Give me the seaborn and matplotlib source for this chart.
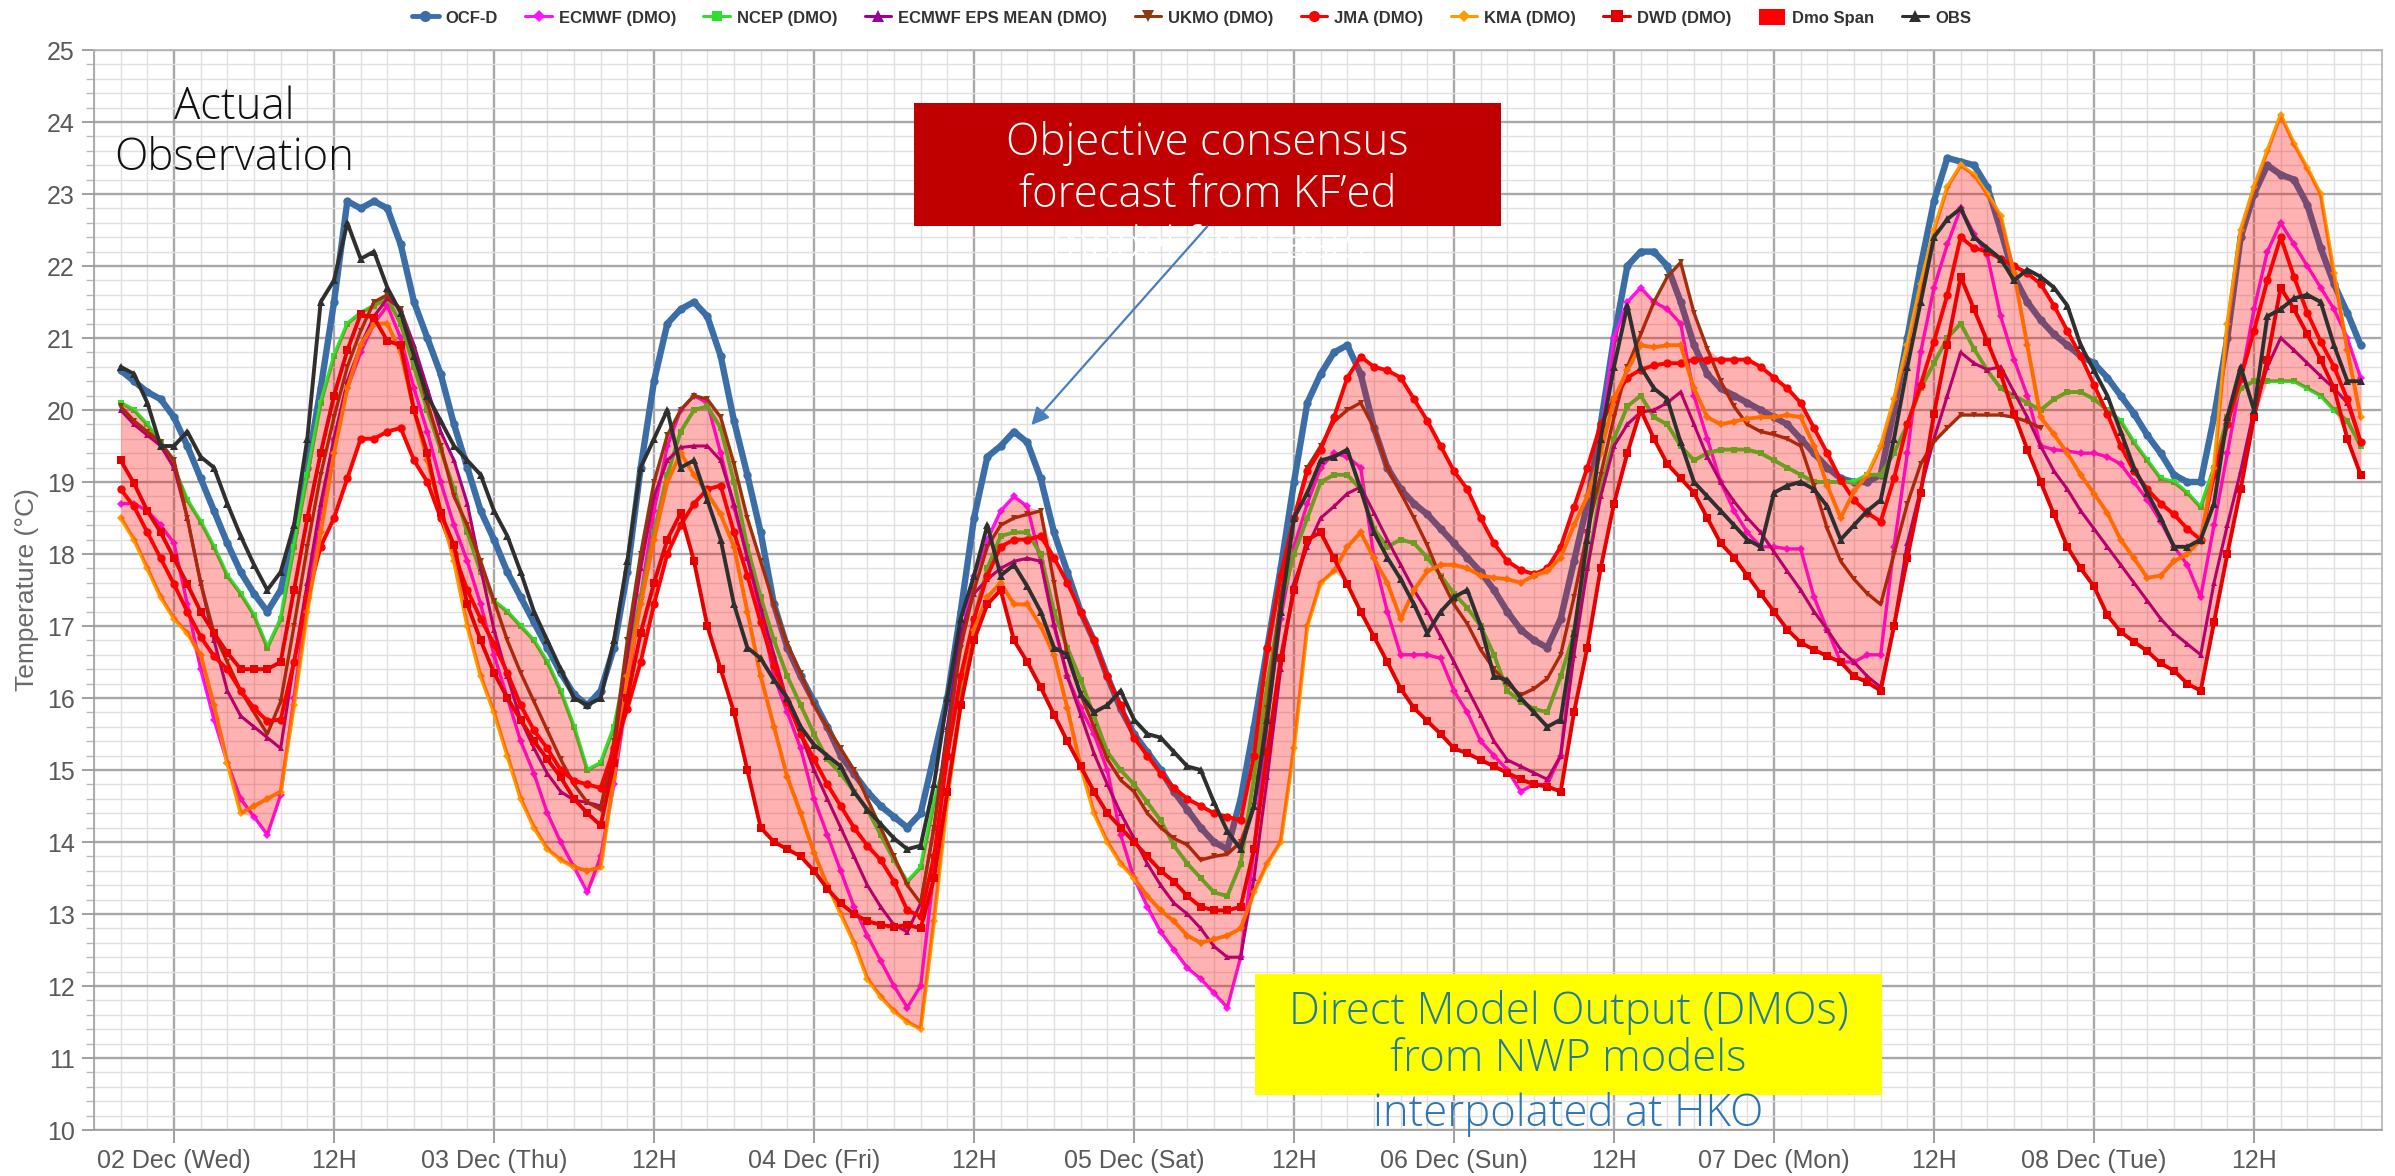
import numpy as np
import matplotlib
matplotlib.use("Agg")
import matplotlib.pyplot as plt
import seaborn as sns
from matplotlib.lines import Line2D
from matplotlib.patches import Patch, Rectangle
from matplotlib.ticker import MultipleLocator

# ---------------- data (hours from 02 Dec 00H, hourly) ----------------
HOURS = list(range(-4, 165))

OCF_D = [20.55, 20.4, 20.25, 20.15,
         19.9, 19.5, 19.05, 18.6, 18.15, 17.75, 17.45, 17.2, 17.5, 18.3, 19.2, 20.3,
         21.5, 22.9, 22.8, 22.9, 22.8, 22.3, 21.5, 21.0, 20.5, 19.8, 19.2, 18.6,
         18.2, 17.75, 17.4, 17.05, 16.7, 16.35, 16.05, 15.9, 16.1, 16.7, 17.75, 19.2,
         20.4, 21.2, 21.4, 21.5, 21.3, 20.75, 19.85, 19.1, 18.3, 17.3, 16.7, 16.3,
         15.95, 15.6, 15.2, 14.95, 14.7, 14.5, 14.35, 14.2, 14.4, 15.2, 16.0, 17.2,
         18.5, 19.35, 19.5, 19.7, 19.55, 19.05, 18.3, 17.75, 17.2, 16.8, 16.3, 15.85,
         15.5, 15.25, 15.0, 14.7, 14.45, 14.2, 14.0, 13.9, 14.6, 15.6, 16.7, 17.8,
         19.0, 20.1, 20.5, 20.8, 20.9, 20.5, 19.75, 19.2, 18.9, 18.7, 18.55, 18.35,
         18.15, 17.95, 17.75, 17.5, 17.2, 16.95, 16.8, 16.7, 17.1, 17.9, 18.7, 19.8,
         21.0, 22.0, 22.2, 22.2, 22.0, 21.5, 20.9, 20.5, 20.3, 20.2, 20.1, 20.0,
         19.9, 19.8, 19.6, 19.4, 19.2, 19.05, 19.0, 19.0, 19.1, 20.0, 21.0, 22.0,
         22.9, 23.5, 23.45, 23.4, 23.1, 22.5, 21.85, 21.5, 21.25, 21.05, 20.9, 20.75,
         20.65, 20.45, 20.2, 19.95, 19.65, 19.4, 19.1, 19.0, 19.0, 19.9, 21.0, 22.4,
         23.0, 23.4, 23.27, 23.2, 22.85, 22.25, 21.75, 21.35, 20.9]

ECMWF = [18.7, 18.7, 18.6, 18.4,
         18.15, 17.3, 16.4, 15.7, 15.1, 14.6, 14.35, 14.1, 14.65, 16.0, 17.4, 18.6,
         19.6, 20.3, 20.8, 21.2, 21.45, 21.0, 20.3, 19.7, 19.0, 18.4, 17.9, 17.3,
         16.6, 16.0, 15.4, 14.95, 14.4, 14.0, 13.65, 13.3, 13.8, 14.8, 16.1, 17.4,
         18.6, 19.5, 20.0, 20.2, 20.1, 19.4, 18.65, 17.95, 17.2, 16.3, 15.8, 15.3,
         14.6, 14.1, 13.6, 13.1, 12.7, 12.35, 12.0, 11.7, 12.0, 13.6, 15.3, 16.8,
         17.7, 18.2, 18.6, 18.8, 18.66, 17.9, 17.0, 16.3, 15.86, 15.5, 15.0, 14.1,
         13.5, 13.1, 12.75, 12.5, 12.25, 12.1, 11.9, 11.7, 12.4, 13.9, 15.7, 17.1,
         18.1, 18.7, 19.2, 19.4, 19.35, 19.2, 17.95, 17.2, 16.6, 16.6, 16.6, 16.55,
         16.1, 15.8, 15.4, 15.2, 15.0, 14.7, 14.8, 14.8, 15.2, 16.8, 18.3, 19.6,
         21.0, 21.5, 21.7, 21.5, 21.4, 21.2, 20.2, 19.6, 19.0, 18.6, 18.3, 18.1,
         18.1, 18.07, 18.07, 17.4, 16.95, 16.5, 16.5, 16.6, 16.6, 18.1, 19.4, 20.8,
         21.7, 22.3, 22.8, 22.45, 22.15, 21.3, 20.7, 20.2, 19.5, 19.45, 19.43, 19.4,
         19.4, 19.35, 19.25, 19.0, 18.75, 18.45, 18.1, 17.85, 17.4, 18.4, 19.4, 20.4,
         21.4, 22.2, 22.6, 22.3, 22.0, 21.7, 21.4, 21.0, 20.45]

NCEP = [20.1, 20.0, 19.8, 19.55,
        19.2, 18.75, 18.45, 18.1, 17.7, 17.45, 17.15, 16.7, 17.1, 18.1, 19.1, 20.1,
        20.75, 21.2, 21.35, 21.45, 21.55, 21.2, 20.6, 20.0, 19.45, 18.9, 18.3, 17.75,
        17.35, 17.2, 17.0, 16.8, 16.5, 16.1, 15.6, 15.0, 15.1, 15.6, 16.5, 17.4,
        18.3, 19.1, 19.7, 20.0, 20.05, 19.75, 19.0, 18.1, 17.4, 16.8, 16.3, 15.9,
        15.5, 15.15, 14.95, 14.7, 14.45, 14.1, 13.75, 13.45, 13.65, 14.55, 15.25, 16.15,
        17.1, 17.8, 18.25, 18.3, 18.3, 18.0, 17.2, 16.7, 16.25, 15.75, 15.25, 15.0,
        14.8, 14.55, 14.3, 13.95, 13.7, 13.5, 13.3, 13.25, 13.7, 14.9, 16.2, 17.3,
        18.0, 18.5, 19.0, 19.1, 19.1, 18.9, 18.35, 18.1, 18.2, 18.15, 17.95, 17.7,
        17.45, 17.25, 17.0, 16.6, 16.1, 15.95, 15.85, 15.8, 16.3, 16.9, 17.8, 18.9,
        19.6, 20.05, 20.2, 19.9, 19.8, 19.5, 19.3, 19.4, 19.45, 19.45, 19.45, 19.4,
        19.3, 19.2, 19.1, 19.0, 19.0, 19.0, 19.0, 19.1, 19.1, 19.4, 19.8, 20.3,
        20.65, 21.0, 21.2, 20.85, 20.55, 20.3, 20.2, 20.1, 20.0, 20.15, 20.25, 20.25,
        20.15, 20.0, 19.85, 19.55, 19.3, 19.05, 19.0, 18.85, 18.65, 19.2, 19.9, 20.3,
        20.4, 20.4, 20.4, 20.4, 20.3, 20.2, 20.0, 19.85, 19.5]

EPS_MEAN = [20.0, 19.8, 19.65, 19.5,
            19.2, 18.5, 17.6, 16.8, 16.1, 15.75, 15.6, 15.45, 15.3, 16.5, 17.6, 18.7,
            19.6, 20.4, 20.9, 21.3, 21.55, 21.4, 20.9, 20.3, 19.7, 19.3, 18.7, 17.8,
            16.95, 16.3, 15.7, 15.3, 14.95, 14.7, 14.58, 14.55, 14.5, 15.2, 16.6, 17.8,
            18.8, 19.3, 19.48, 19.5, 19.5, 19.3, 18.7, 17.95, 17.25, 16.6, 15.95, 15.5,
            15.0, 14.6, 14.2, 13.8, 13.4, 13.1, 12.85, 12.75, 13.15, 14.2, 15.6, 16.9,
            17.45, 17.65, 17.8, 17.9, 17.94, 17.9, 17.03, 16.3, 15.77, 15.23, 14.8, 14.4,
            14.05, 13.7, 13.4, 13.15, 13.0, 12.8, 12.55, 12.4, 12.4, 13.5, 14.9, 16.4,
            17.6, 18.1, 18.5, 18.66, 18.84, 18.93, 18.57, 18.2, 17.85, 17.5, 17.2, 16.85,
            16.5, 16.13, 15.77, 15.4, 15.14, 15.05, 14.96, 14.87, 15.2, 16.6, 17.8, 18.8,
            19.5, 19.8, 19.97, 20.0, 20.1, 20.25, 19.8, 19.35, 19.0, 18.73, 18.5, 18.3,
            18.03, 17.76, 17.5, 17.2, 16.95, 16.67, 16.5, 16.3, 16.15, 17.0, 18.15, 18.9,
            19.6, 20.2, 20.8, 20.65, 20.56, 20.6, 20.25, 19.9, 19.5, 19.15, 18.9, 18.6,
            18.35, 18.1, 17.85, 17.6, 17.35, 17.1, 16.9, 16.75, 16.6, 17.6, 18.4, 19.15,
            20.0, 20.6, 21.0, 20.83, 20.65, 20.47, 20.3, 20.1, 19.56]

# UKMO stops at 07 Dec 20H (hour 140)
UKMO = [20.05, 19.85, 19.7, 19.55,
        19.3, 18.5, 17.6, 16.9, 16.5, 16.1, 15.8, 15.5, 15.95, 17.0, 18.1, 19.1,
        19.9, 20.6, 21.1, 21.5, 21.6, 21.4, 20.8, 20.1, 19.5, 18.8, 18.4, 17.9,
        17.35, 16.8, 16.35, 15.95, 15.55, 15.15, 14.8, 14.55, 14.45, 15.4, 16.8, 18.0,
        19.0, 19.65, 20.0, 20.2, 20.15, 19.9, 19.25, 18.5, 17.9, 17.3, 16.75, 16.35,
        15.9, 15.6, 15.3, 15.0, 14.6, 14.2, 13.8, 13.4, 13.15, 14.2, 15.5, 16.7,
        17.5, 18.1, 18.4, 18.5, 18.55, 18.6, 17.6, 16.6, 16.05, 15.6, 15.15, 14.86,
        14.7, 14.4, 14.2, 14.05, 13.96, 13.75, 13.8, 13.83, 14.0, 14.5, 15.86, 17.4,
        18.5, 19.2, 19.5, 19.84, 20.0, 20.1, 19.75, 19.2, 18.85, 18.5, 18.12, 17.67,
        17.3, 17.03, 16.67, 16.4, 16.2, 16.04, 16.13, 16.27, 16.6, 17.4, 18.3, 19.1,
        19.9, 20.6, 21.05, 21.5, 21.85, 22.05, 21.35, 20.85, 20.4, 20.05, 19.8, 19.7,
        19.66, 19.6, 19.5, 18.95, 18.35, 17.9, 17.65, 17.45, 17.3, 18.0, 18.7, 19.25,
        19.56, 19.75, 19.93, 19.93, 19.93, 19.93, 19.9, 19.84, 19.75]

JMA = [18.9, 18.66, 18.3, 17.94,
       17.58, 17.2, 16.85, 16.58, 16.4, 16.1, 15.86, 15.68, 15.7, 16.5, 17.4, 18.1,
       18.5, 19.05, 19.6, 19.6, 19.7, 19.75, 19.3, 19.0, 18.5, 18.0, 17.5, 17.1,
       16.75, 16.35, 15.9, 15.55, 15.3, 15.0, 14.85, 14.8, 14.75, 15.3, 15.85, 16.5,
       17.3, 18.0, 18.4, 18.7, 18.9, 18.95, 18.3, 17.7, 17.05, 16.45, 15.95, 15.5,
       15.15, 14.8, 14.5, 14.2, 13.95, 13.75, 13.45, 13.05, 12.97, 13.8, 15.2, 16.3,
       17.1, 17.7, 18.1, 18.2, 18.2, 18.25, 17.95, 17.6, 17.2, 16.8, 16.3, 15.9,
       15.45, 15.2, 14.95, 14.75, 14.6, 14.5, 14.4, 14.35, 14.3, 15.2, 16.7, 17.7,
       18.5, 19.15, 19.45, 19.9, 20.45, 20.74, 20.6, 20.55, 20.45, 20.15, 19.85, 19.5,
       19.15, 18.9, 18.5, 18.15, 17.9, 17.78, 17.72, 17.8, 18.1, 18.65, 19.2, 19.8,
       20.15, 20.45, 20.56, 20.62, 20.65, 20.65, 20.7, 20.7, 20.7, 20.7, 20.7, 20.6,
       20.45, 20.3, 20.1, 19.75, 19.4, 19.03, 18.75, 18.57, 18.45, 19.05, 19.8, 20.35,
       20.95, 21.6, 22.4, 22.25, 22.2, 22.1, 22.0, 21.9, 21.75, 21.45, 21.1, 20.75,
       20.35, 19.95, 19.5, 19.15, 18.9, 18.7, 18.55, 18.35, 18.2, 19.1, 19.8, 20.45,
       21.1, 21.8, 22.4, 21.85, 21.35, 20.95, 20.6, 20.15, 19.56]

KMA = [18.5, 18.2, 17.8, 17.4,
       17.1, 16.9, 16.6, 15.9, 15.1, 14.4, 14.5, 14.6, 14.7, 15.9, 17.2, 18.3,
       19.4, 20.3, 20.9, 21.2, 21.2, 20.8, 20.0, 19.3, 18.6, 17.9, 17.0, 16.3,
       15.8, 15.2, 14.6, 14.2, 13.9, 13.75, 13.65, 13.6, 13.65, 14.9, 16.3, 17.3,
       18.2, 19.0, 19.4, 19.1, 18.85, 18.55, 18.1, 17.2, 16.3, 15.6, 14.9, 14.4,
       13.85, 13.4, 13.0, 12.6, 12.1, 11.85, 11.65, 11.5, 11.4, 12.9, 14.6, 15.9,
       16.95, 17.4, 17.6, 17.3, 17.3, 17.0, 16.6, 15.86, 15.05, 14.4, 14.0, 13.7,
       13.5, 13.25, 13.05, 12.9, 12.7, 12.6, 12.65, 12.7, 12.8, 13.3, 13.7, 14.0,
       15.3, 17.0, 17.6, 17.76, 18.1, 18.3, 17.94, 17.6, 17.1, 17.5, 17.76, 17.85,
       17.85, 17.8, 17.7, 17.67, 17.65, 17.6, 17.7, 17.76, 17.95, 18.4, 18.8, 19.4,
       20.15, 20.55, 20.9, 20.87, 20.9, 20.9, 20.3, 19.9, 19.8, 19.84, 19.88, 19.9,
       19.9, 19.93, 19.9, 19.5, 18.95, 18.5, 18.87, 19.1, 19.5, 20.15, 20.9, 21.75,
       22.5, 23.1, 23.4, 23.27, 23.0, 22.7, 21.9, 20.9, 19.9, 19.66, 19.4, 19.1,
       18.84, 18.57, 18.2, 17.94, 17.67, 17.7, 17.9, 18.0, 18.2, 19.2, 21.2, 22.5,
       23.1, 23.6, 24.1, 23.7, 23.36, 23.0, 21.9, 20.83, 19.9]

DWD = [19.3, 18.98, 18.6, 18.3,
       17.94, 17.58, 17.2, 16.9, 16.63, 16.4, 16.4, 16.4, 16.5, 17.5, 18.5, 19.4,
       20.2, 20.83, 21.33, 21.28, 20.96, 20.9, 20.0, 19.4, 18.57, 18.12, 17.3, 16.8,
       16.35, 16.0, 15.7, 15.4, 15.15, 14.9, 14.6, 14.4, 14.23, 15.1, 16.0, 16.9,
       17.6, 18.2, 18.57, 17.9, 17.0, 16.4, 15.8, 15.0, 14.2, 14.0, 13.9, 13.8,
       13.6, 13.35, 13.15, 13.0, 12.9, 12.85, 12.82, 12.85, 12.8, 13.5, 14.7, 15.9,
       16.8, 17.3, 17.5, 16.8, 16.5, 16.15, 15.77, 15.4, 15.05, 14.7, 14.4, 14.2,
       14.0, 13.8, 13.6, 13.45, 13.25, 13.1, 13.05, 13.05, 13.1, 13.9, 15.25, 16.55,
       17.5, 18.2, 18.3, 17.94, 17.58, 17.2, 16.85, 16.5, 16.13, 15.86, 15.68, 15.5,
       15.3, 15.23, 15.14, 15.05, 14.96, 14.87, 14.8, 14.77, 14.7, 15.8, 16.7, 17.8,
       18.7, 19.4, 20.0, 19.6, 19.25, 19.05, 18.85, 18.5, 18.15, 17.95, 17.7, 17.45,
       17.2, 16.95, 16.77, 16.67, 16.58, 16.5, 16.3, 16.22, 16.1, 17.0, 17.94, 18.85,
       19.95, 20.9, 21.85, 21.4, 20.95, 20.5, 19.95, 19.45, 19.0, 18.55, 18.1, 17.8,
       17.55, 17.15, 16.92, 16.78, 16.65, 16.48, 16.38, 16.2, 16.1, 17.05, 18.0, 18.9,
       19.9, 20.7, 21.7, 21.4, 21.05, 20.7, 20.3, 19.6, 19.1]

OBS = [20.6, 20.5, 20.1, 19.5,
       19.5, 19.7, 19.35, 19.2, 18.7, 18.25, 17.85, 17.5, 17.75, 18.4, 19.6, 21.5,
       21.8, 22.6, 22.1, 22.2, 21.7, 21.35, 20.75, 20.2, 19.85, 19.5, 19.3, 19.1,
       18.6, 18.25, 17.75, 17.2, 16.8, 16.4, 16.0, 15.9, 16.0, 16.8, 17.9, 19.2,
       19.6, 20.0, 19.2, 19.3, 18.75, 18.2, 17.3, 16.7, 16.55, 16.25, 16.0, 15.6,
       15.35, 15.2, 15.05, 14.7, 14.45, 14.25, 14.05, 13.9, 13.95, 14.8, 16.0, 17.1,
       17.7, 18.4, 17.7, 17.85, 17.55, 17.2, 16.7, 16.6, 16.05, 15.8, 15.9, 16.1,
       15.7, 15.5, 15.45, 15.25, 15.05, 15.0, 14.55, 14.15, 13.9, 14.5, 15.7, 17.2,
       18.5, 18.85, 19.3, 19.35, 19.45, 18.9, 18.3, 17.95, 17.65, 17.3, 16.9, 17.2,
       17.4, 17.5, 17.0, 16.3, 16.25, 16.0, 15.8, 15.6, 15.7, 16.9, 18.2, 19.6,
       20.6, 21.45, 20.6, 20.3, 20.15, 19.55, 19.0, 18.8, 18.6, 18.4, 18.2, 18.1,
       18.85, 18.95, 19.0, 18.9, 18.66, 18.2, 18.4, 18.6, 18.75, 19.6, 20.6, 21.5,
       22.4, 22.65, 22.8, 22.4, 22.25, 22.1, 21.8, 21.95, 21.85, 21.7, 21.45, 20.9,
       20.55, 20.2, 19.7, 19.2, 18.85, 18.5, 18.1, 18.1, 18.2, 18.7, 19.9, 20.6,
       20.0, 21.3, 21.4, 21.55, 21.6, 21.5, 20.9, 20.4, 20.4]

X_TICKS = [0, 12, 24, 36, 48, 60, 72, 84, 96, 108, 120, 132, 144, 156]
X_TICK_LABELS = ["02 Dec (Wed)", "12H", "03 Dec (Thu)", "12H", "04 Dec (Fri)", "12H",
                 "05 Dec (Sat)", "12H", "06 Dec (Sun)", "12H", "07 Dec (Mon)", "12H",
                 "08 Dec (Tue)", "12H"]
Y_TICKS = list(range(10, 26))

SERIES_NAMES = ["OCF-D", "ECMWF (DMO)", "NCEP (DMO)", "ECMWF EPS MEAN (DMO)", "UKMO (DMO)",
                "JMA (DMO)", "KMA (DMO)", "DWD (DMO)", "Dmo Span", "OBS"]

# ---------------- figure ----------------
sns.set_theme(style="white")
plt.rcParams['font.family'] = ['Liberation Sans', 'DejaVu Sans']

W, H = 2395, 1176
fig = plt.figure(figsize=(W / 100, H / 100), dpi=100)
x0, x1, y_top, y_bot = 94, 2382, 50, 1130
ax = fig.add_axes([x0 / W, 1 - y_bot / H, (x1 - x0) / W, (y_bot - y_top) / H])
ax.set_xlim(-6, 165.6)
ax.set_ylim(10, 25)

# grid
ax.set_axisbelow(True)
ax.xaxis.set_major_locator(plt.FixedLocator(X_TICKS))
ax.xaxis.set_minor_locator(MultipleLocator(2))
ax.yaxis.set_major_locator(plt.FixedLocator(Y_TICKS))
ax.yaxis.set_minor_locator(MultipleLocator(0.2))
ax.grid(which='minor', color='#e0e0e0', linewidth=1.0, zorder=0)
ax.grid(which='major', color='#a8a8a8', linewidth=1.7, zorder=0.5)
for s in ax.spines.values():
    s.set_color('#b4b4b4')
    s.set_linewidth(1.2)
ax.spines['left'].set_color('#a0a0a0')
ax.spines['bottom'].set_color('#a0a0a0')

ax.set_xticks(X_TICKS)
ax.set_xticklabels(X_TICK_LABELS)
ax.set_yticks(Y_TICKS)
ax.set_yticklabels([str(v) for v in Y_TICKS])
ax.tick_params(axis='both', which='major', labelsize=18, labelcolor='#5a5a5a',
               color='#a0a0a0', length=9, width=1.4, pad=5)
ax.tick_params(axis='y', which='minor', left=True, length=6, width=1.0, color='#b8b8b8')
ax.tick_params(axis='x', which='minor', bottom=False)
ax.tick_params(axis='y', which='major', left=True)
ax.tick_params(axis='x', which='major', bottom=True)
ax.set_xlabel("")
ax.set_ylabel("Temperature (°C)", fontsize=19, color='#6a6a6a')
ax.yaxis.set_label_coords(-0.024, 0.5)

hours = np.array(HOURS)
ukmo_hours = HOURS[:len(UKMO)]

styles = [
    # name, x, y, color, lw, marker, ms, z
    ("OCF-D", HOURS, OCF_D, '#3b6ea6', 4.6, 'o', 6.0, 2),
    ("ECMWF (DMO)", HOURS, ECMWF, '#ff10ff', 2.4, 'D', 4.2, 3),
    ("NCEP (DMO)", HOURS, NCEP, '#2ee02e', 2.8, 's', 5.0, 4),
    ("ECMWF EPS MEAN (DMO)", HOURS, EPS_MEAN, '#990099', 2.2, '^', 5.0, 5),
    ("UKMO (DMO)", ukmo_hours, UKMO, '#8b3a10', 2.4, 'v', 5.0, 6),
    ("JMA (DMO)", HOURS, JMA, '#ff0000', 2.8, 'o', 6.0, 7),
    ("KMA (DMO)", HOURS, KMA, '#ff9a00', 2.8, 'D', 4.2, 8),
    ("DWD (DMO)", HOURS, DWD, '#e00000', 2.8, 's', 5.8, 9),
]
for name, xs, ys, c, lw, m, ms, z in styles:
    sns.lineplot(x=xs, y=ys, ax=ax, color=c, linewidth=lw, marker=m, markersize=ms,
                 markeredgewidth=0, legend=False, sort=False, zorder=z)

# Dmo span (envelope of the model outputs)
ukmo_full = np.full(len(HOURS), np.nan)
ukmo_full[:len(UKMO)] = UKMO
dmo = np.vstack([ECMWF, NCEP, EPS_MEAN, ukmo_full, JMA, KMA, DWD])
span_lo = np.nanmin(dmo, axis=0)
span_hi = np.nanmax(dmo, axis=0)
ax.fill_between(hours, span_lo, span_hi, color='#ff0000', alpha=0.3, linewidth=0, zorder=10)

sns.lineplot(x=HOURS, y=OBS, ax=ax, color='#2f2f2f', linewidth=2.8, marker='^', markersize=5.5,
             markeredgewidth=0, legend=False, sort=False, zorder=11)

ax.set_xlim(-6, 165.6)
ax.set_ylim(10, 25)

# ---------------- annotations ----------------
ANN_FONT = ['Open Sans', 'DejaVu Sans']
ANN_W = 'light'
ANN_SIZE = 31.5
ax.text(4.5, 24.04, "Actual", fontsize=ANN_SIZE, family=ANN_FONT, weight=ANN_W, color='#111111',
        ha='center', va='baseline', zorder=20)
ax.text(4.5, 23.33, "Observation", fontsize=ANN_SIZE, family=ANN_FONT, weight=ANN_W, color='#111111',
        ha='center', va='baseline', zorder=20)

ax.add_patch(Rectangle((55.5, 22.55), 44.0, 1.71, facecolor='#c00000', edgecolor='none', zorder=20))
ax.text(77.5, 23.54, "Objective consensus", fontsize=ANN_SIZE, family=ANN_FONT, weight=ANN_W,
        color='white', ha='center', va='baseline', zorder=21)
ax.text(77.5, 22.82, "forecast from KF\u2019ed", fontsize=ANN_SIZE, family=ANN_FONT, weight=ANN_W,
        color='white', ha='center', va='baseline', zorder=21)
ax.text(77.5, 22.11, "model forecasts", fontsize=ANN_SIZE, family=ANN_FONT, weight=ANN_W,
        color='white', ha='center', va='baseline', zorder=21)
ax.annotate('', xy=(64.3, 19.79), xytext=(77.5, 22.55),
            arrowprops=dict(arrowstyle='-|>', color='#4a7ebb', lw=1.6, mutation_scale=26,
                            shrinkA=0, shrinkB=0), zorder=21)

ax.add_patch(Rectangle((81.1, 10.49), 47.0, 1.67, facecolor='#ffff00', edgecolor='none', zorder=20))
ax.text(104.6, 11.47, "Direct Model Output (DMOs)", fontsize=ANN_SIZE, family=ANN_FONT, weight=ANN_W,
        color='#1f7b9c', ha='center', va='baseline', zorder=21)
ax.text(104.6, 10.82, "from NWP models", fontsize=ANN_SIZE, family=ANN_FONT, weight=ANN_W,
        color='#1f7b9c', ha='center', va='baseline', zorder=21)
ax.text(104.6, 10.06, "interpolated at HKO", fontsize=ANN_SIZE, family=ANN_FONT, weight=ANN_W,
        color='#2e75b6', ha='center', va='baseline', zorder=21, clip_on=False)

# ---------------- legend ----------------
handles = [
    Line2D([0], [0], color='#3b6ea6', lw=3.5, marker='o', markersize=8, markeredgewidth=0),
    Line2D([0], [0], color='#ff10ff', lw=2.2, marker='D', markersize=6.5, markeredgewidth=0),
    Line2D([0], [0], color='#2ee02e', lw=2.2, marker='s', markersize=7, markeredgewidth=0),
    Line2D([0], [0], color='#990099', lw=2.2, marker='^', markersize=8, markeredgewidth=0),
    Line2D([0], [0], color='#8b3a10', lw=2.2, marker='v', markersize=8, markeredgewidth=0),
    Line2D([0], [0], color='#ff0000', lw=2.2, marker='o', markersize=8, markeredgewidth=0),
    Line2D([0], [0], color='#ff9a00', lw=2.2, marker='D', markersize=6.5, markeredgewidth=0),
    Line2D([0], [0], color='#e00000', lw=2.2, marker='s', markersize=8, markeredgewidth=0),
    Patch(facecolor='#ff0000', edgecolor='none'),
    Line2D([0], [0], color='#2f2f2f', lw=2.2, marker='^', markersize=8, markeredgewidth=0),
]
leg = fig.legend(handles, SERIES_NAMES, loc='center', bbox_to_anchor=(0.4975, 0.985), ncol=10,
                 frameon=False, handlelength=1.6, handleheight=1.1,
                 columnspacing=1.65, handletextpad=0.4,
                 prop={'family': ['Liberation Sans', 'DejaVu Sans'], 'weight': 'bold', 'size': 12})
for t in leg.get_texts():
    t.set_color('#333333')

fig.savefig("out.png", dpi=100, facecolor='white')
